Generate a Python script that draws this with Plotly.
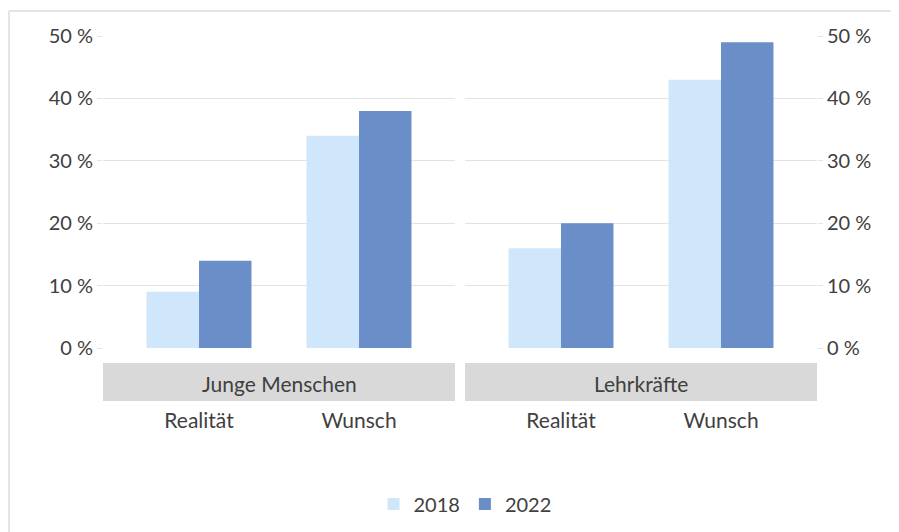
import plotly.graph_objects as go

categories = ["Realität", "Wunsch"]
panels = ["Junge Menschen", "Lehrkräfte"]
years = ["2018", "2022"]
values_junge_2018 = [9, 34]
values_junge_2022 = [14, 38]
values_lehr_2018 = [16, 43]
values_lehr_2022 = [20, 49]
y_ticks = [0, 10, 20, 30, 40, 50]
y_tick_labels = [f"{v} %" for v in y_ticks]

col_2018 = "rgb(208,231,251)"
col_2022 = "rgb(106,142,199)"
txt = "#404040"
grid = "#e3e3e3"
font_family = "Lato, 'Open Sans', sans-serif"

OFF = 8  # page body margin
W, H = 899 - OFF, 532 - OFF

def px(x):
    return (x - OFF) / W

def py(y):
    return 1 - (y - OFF) / H

fig = go.Figure()
fig.add_trace(go.Bar(x=categories, y=values_junge_2018, name=years[0], marker_color=col_2018,
                     marker_line_width=0, xaxis="x", yaxis="y", legendgroup="a"))
fig.add_trace(go.Bar(x=categories, y=values_junge_2022, name=years[1], marker_color=col_2022,
                     marker_line_width=0, xaxis="x", yaxis="y", legendgroup="b"))
fig.add_trace(go.Bar(x=categories, y=values_lehr_2018, name=years[0], marker_color=col_2018,
                     marker_line_width=0, xaxis="x2", yaxis="y2", legendgroup="a", showlegend=False))
fig.add_trace(go.Bar(x=categories, y=values_lehr_2022, name=years[1], marker_color=col_2022,
                     marker_line_width=0, xaxis="x2", yaxis="y2", legendgroup="b", showlegend=False))

xcommon = dict(type="category", range=[-0.6, 1.6], showgrid=False, zeroline=False, showline=False,
               ticks="", automargin=False,
               tickfont=dict(size=21, color=txt, family=font_family), ticklabelstandoff=58)
ycommon = dict(range=[0, 50], tickmode="array", tickvals=y_ticks, ticktext=y_tick_labels,
               showgrid=True, gridcolor=grid, domain=[py(348), py(36)], automargin=False,
               gridwidth=1, zeroline=False, showline=False, ticks="outside", ticklen=5, tickcolor=grid,
               tickfont=dict(size=20, color=txt, family=font_family))

fig.update_layout(
    width=W, height=H,
    margin=dict(l=0, r=0, t=0, b=0, pad=0, autoexpand=False),
    paper_bgcolor="white", plot_bgcolor="white",
    barmode="group", bargap=0.344, bargroupgap=0,
    font=dict(family=font_family, color=txt, size=20),
    xaxis=dict(domain=[px(103), px(455)], anchor="y", **xcommon),
    xaxis2=dict(domain=[px(465), px(817)], anchor="y2", **xcommon),
    yaxis=dict(anchor="x", side="left", **ycommon),
    yaxis2=dict(anchor="x2", side="right", **ycommon),
    legend=dict(orientation="h", x=px(465), xanchor="center", y=py(504), yanchor="middle",
                font=dict(size=20, color=txt, family=font_family), itemsizing="constant",
                traceorder="normal"),
    showlegend=True,
)

# strips
for x0, x1, label in [(103, 455, panels[0]), (465, 817, panels[1])]:
    fig.add_shape(type="rect", xref="paper", yref="paper", x0=px(x0), x1=px(x1),
                  y0=py(401), y1=py(363), fillcolor="#d9d9d9", line_width=0, layer="below")
    fig.add_annotation(xref="paper", yref="paper", x=px((x0 + x1) / 2), y=py(383),
                       text=label, showarrow=False, xanchor="center", yanchor="middle",
                       font=dict(size=21, color=txt, family=font_family))

# outer border lines
fig.add_shape(type="line", xref="paper", yref="paper", x0=px(9), x1=px(9), y0=py(11), y1=py(540),
              line=dict(color="#dcdcdc", width=1.5))
fig.add_shape(type="line", xref="paper", yref="paper", x0=px(9), x1=px(905), y0=py(11), y1=py(11),
              line=dict(color="#dcdcdc", width=1.5))

fig.write_html("out.html")
